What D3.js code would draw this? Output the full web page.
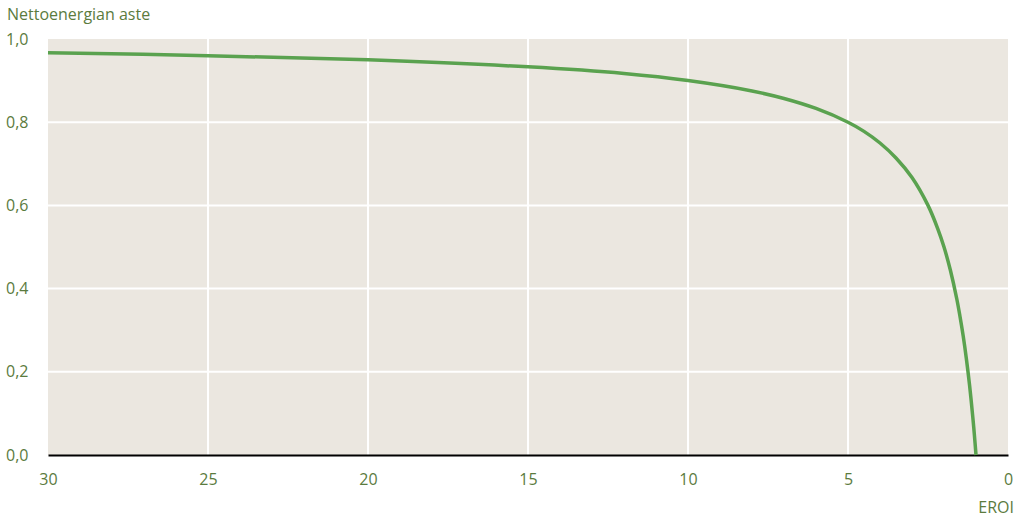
<!DOCTYPE html>
<html><head><meta charset="utf-8">
<script src="https://cdn.jsdelivr.net/npm/d3@7"></script>
<style>
body{margin:0;background:#fff;}
text{font-family:"Open Sans",sans-serif;fill:#5b7b3e;}
</style></head>
<body><svg id="c" width="1016" height="517"></svg>
<script>
const eroi = [30,25,20,15,12,10,8,7,6,5,4.5,4,3.5,3,2.5,2.2,2,1.8,1.6,1.5,1.4,1.3,1.2,1.1,1.05,1];
const netEnergy = [0.967,0.96,0.95,0.933,0.917,0.9,0.875,0.857,0.833,0.8,0.778,0.75,0.714,0.667,0.6,0.545,0.5,0.444,0.375,0.333,0.286,0.231,0.167,0.091,0.048,0];
const xTicks = [30,25,20,15,10,5,0];
const yTicks = [0,0.2,0.4,0.6,0.8,1.0];
const yTickLabels = ["0,0","0,2","0,4","0,6","0,8","1,0"];
const yTitle = "Nettoenergian aste";
const xTitle = "EROI";

const svg = d3.select("#c");
const L=48, R=1008, T=39, B=455;
const FS = "16px";
const x = d3.scaleLinear().domain([30,0]).range([L,R]);
const y = d3.scaleLinear().domain([0,1]).range([B,T]);

svg.append("rect").attr("x",L).attr("y",T).attr("width",R-L).attr("height",B-T).attr("fill","#ebe7e0");

svg.append("g").selectAll("line").data(xTicks.filter(d=>d!==30&&d!==0)).join("line")
  .attr("x1",d=>x(d)).attr("x2",d=>x(d)).attr("y1",T).attr("y2",B)
  .attr("stroke","#fff").attr("stroke-width",2);
svg.append("g").selectAll("line").data(yTicks.filter(d=>d>0&&d<1)).join("line")
  .attr("x1",L).attr("x2",R).attr("y1",d=>y(d)).attr("y2",d=>y(d))
  .attr("stroke","#fff").attr("stroke-width",2);

const xAxis = svg.append("g").attr("transform",`translate(0,${B})`)
  .call(d3.axisBottom(x).tickValues(xTicks).tickSize(0).tickPadding(19));
xAxis.select(".domain").attr("stroke","#000").attr("stroke-width",2);
xAxis.selectAll("text").style("font-size",FS).attr("fill","#5b7b3e");

const yAxis = svg.append("g").attr("transform",`translate(${L},0)`)
  .call(d3.axisLeft(y).tickValues(yTicks).tickSize(0).tickPadding(0).tickFormat((d,i)=>yTickLabels[i]));
yAxis.select(".domain").remove();
yAxis.selectAll("text").style("font-size",FS).attr("fill","#5b7b3e").attr("text-anchor","start").attr("x",-42);

svg.append("text").attr("x",7).attr("y",20).style("font-size",FS).text(yTitle);
svg.append("text").attr("x",1014).attr("y",513).attr("text-anchor","end").style("font-size",FS).text(xTitle);

const line = d3.line().x((d,i)=>x(eroi[i])).y(d=>y(d)).curve(d3.curveCatmullRom.alpha(0.5));
svg.append("path").datum(netEnergy).attr("d",line).attr("fill","none")
  .attr("stroke","#5aa24f").attr("stroke-width",3.5);
</script></body></html>
